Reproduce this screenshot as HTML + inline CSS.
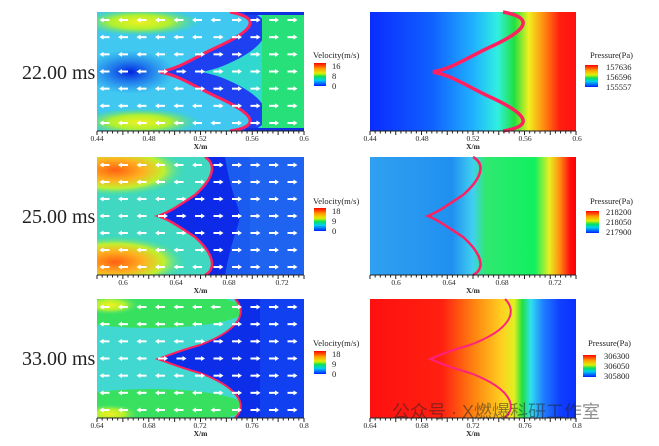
<!DOCTYPE html>
<html><head><meta charset="utf-8"><style>
html,body{margin:0;padding:0;background:#fff;width:659px;height:446px;overflow:hidden}
svg{display:block}
text{font-family:"Liberation Serif",serif;fill:#222}
</style></head><body>
<svg id="s" width="659" height="446" viewBox="0 0 659 446" xmlns="http://www.w3.org/2000/svg">
<defs>
<linearGradient id="p1" x1="0" x2="1" y1="0" y2="0">
<stop offset="0" stop-color="#0a2cff"/><stop offset="0.3" stop-color="#1060ff"/><stop offset="0.5" stop-color="#20b0ff"/><stop offset="0.62" stop-color="#30f0e0"/><stop offset="0.7" stop-color="#20e040"/><stop offset="0.77" stop-color="#f0f020"/><stop offset="0.84" stop-color="#ff9010"/><stop offset="0.92" stop-color="#ff2010"/><stop offset="1" stop-color="#ff1010"/></linearGradient>
<linearGradient id="p2" x1="0" x2="1" y1="0" y2="0">
<stop offset="0" stop-color="#30a0f0"/><stop offset="0.4" stop-color="#2090f0"/><stop offset="0.5" stop-color="#40d0f0"/><stop offset="0.56" stop-color="#30e870"/><stop offset="0.8" stop-color="#10f060"/><stop offset="0.87" stop-color="#e8f020"/><stop offset="0.92" stop-color="#ff9010"/><stop offset="0.97" stop-color="#ff1010"/><stop offset="1" stop-color="#ff0000"/></linearGradient>
<linearGradient id="p3" x1="0" x2="1" y1="0" y2="0">
<stop offset="0" stop-color="#ff1010"/><stop offset="0.35" stop-color="#ff2010"/><stop offset="0.5" stop-color="#ff8010"/><stop offset="0.64" stop-color="#ffd020"/><stop offset="0.7" stop-color="#e0f020"/><stop offset="0.74" stop-color="#20e040"/><stop offset="0.78" stop-color="#30e0f0"/><stop offset="0.84" stop-color="#2080ff"/><stop offset="0.92" stop-color="#1040ff"/><stop offset="1" stop-color="#0a30ff"/></linearGradient>
<linearGradient id="lv" x1="0" x2="0" y1="0" y2="1">
<stop offset="0" stop-color="#ff0000"/><stop offset="0.25" stop-color="#ffa000"/><stop offset="0.45" stop-color="#e0f000"/><stop offset="0.6" stop-color="#00e060"/><stop offset="0.75" stop-color="#00d0f0"/><stop offset="1" stop-color="#0020ff"/></linearGradient>
<radialGradient id="yel"><stop offset="0" stop-color="#f0f020"/><stop offset="0.5" stop-color="#b0f030"/><stop offset="1" stop-color="#40e080" stop-opacity="0"/></radialGradient>
<radialGradient id="ora"><stop offset="0" stop-color="#ff6010"/><stop offset="0.4" stop-color="#ffb020"/><stop offset="0.7" stop-color="#c0f030"/><stop offset="1" stop-color="#40e0a0" stop-opacity="0"/></radialGradient>
<radialGradient id="dk"><stop offset="0" stop-color="#0020e0"/><stop offset="1" stop-color="#1060f0" stop-opacity="0"/></radialGradient>
<clipPath id="c1"><rect x="97" y="12" width="207" height="119"/></clipPath>
<clipPath id="c2"><rect x="97" y="157" width="207" height="118"/></clipPath>
<clipPath id="c3"><rect x="97" y="299" width="207" height="119"/></clipPath>
</defs>

<g clip-path="url(#c1)">
<rect x="97" y="12" width="207" height="119" fill="#40c8f0"/>
<ellipse cx="130" cy="72" rx="45" ry="22" fill="url(#dk)"/>
<ellipse cx="140" cy="22" rx="60" ry="14" fill="url(#yel)"/>
<ellipse cx="140" cy="122" rx="60" ry="14" fill="url(#yel)"/>
<path d="M230,12 C262,18 255,30 215,48 C190,60 180,68 160,72 C180,76 190,84 215,96 C255,114 262,126 230,131 L304,131 L304,12 Z" fill="#1e40f0"/>
<path d="M250,12 C275,20 270,40 245,55 C230,64 215,70 200,72 C215,74 230,80 245,89 C270,104 275,124 250,131 L304,131 L304,12 Z" fill="#30d8d0"/>
<rect x="262" y="12" width="42" height="119" fill="#28e07a"/>
<rect x="245" y="12" width="59" height="3" fill="#1030e0"/><rect x="245" y="128" width="59" height="3" fill="#1030e0"/>
<path d="M230,12 C262,18 255,30 215,48 C190,60 180,68 160,72 C180,76 190,84 215,96 C255,114 262,126 230,131" fill="none" stroke="#ff2060" stroke-width="3"/>
<g id="a1"></g>
</g>
<rect x="370" y="12" width="206" height="119" fill="url(#p1)"/>
<path d="M503,12 C535,18 528,30 488,48 C463,60 453,68 433,72 C453,76 463,84 488,96 C528,114 535,126 503,131" fill="none" stroke="#ff2060" stroke-width="3.5"/>

<g clip-path="url(#c2)">
<rect x="97" y="157" width="207" height="118" fill="#40d8c0"/>
<ellipse cx="115" cy="170" rx="70" ry="26" fill="url(#ora)"/>
<ellipse cx="115" cy="262" rx="70" ry="26" fill="url(#ora)"/>
<path d="M205,157 C218,165 212,180 195,195 C178,206 170,212 158,216 C170,220 178,226 195,237 C212,252 218,268 205,275 L304,275 L304,157 Z" fill="#0c2ae8"/>
<path d="M225,157 C230,190 240,210 240,216 C240,222 230,245 225,275 L304,275 L304,157 Z" fill="#1a5cf0"/>
<rect x="250" y="157" width="54" height="118" fill="#1e64f0"/>
<path d="M205,157 C218,165 212,180 195,195 C178,206 170,212 158,216 C170,220 178,226 195,237 C212,252 218,268 205,275" fill="none" stroke="#ff2060" stroke-width="2.5"/>
<g id="a2"></g>
</g>
<rect x="370" y="157" width="206" height="118" fill="url(#p2)"/>
<path d="M473,157 C487,165 480,180 463,195 C446,206 438,212 428,216 C438,220 446,226 463,237 C480,252 487,268 473,275" fill="none" stroke="#ff2060" stroke-width="2.5"/>

<g clip-path="url(#c3)">
<rect x="97" y="299" width="207" height="119" fill="#40d8d0"/>
<ellipse cx="150" cy="310" rx="95" ry="18" fill="#38e060"/>
<ellipse cx="150" cy="407" rx="95" ry="18" fill="#38e060"/>
<ellipse cx="110" cy="305" rx="30" ry="10" fill="url(#yel)"/>
<ellipse cx="110" cy="414" rx="30" ry="10" fill="url(#yel)"/>
<path d="M235,299 C248,312 240,330 200,345 C175,352 170,355 158,359 C170,363 175,366 200,373 C240,388 248,406 235,418 L304,418 L304,299 Z" fill="#0c2ee8"/>
<rect x="260" y="299" width="44" height="119" fill="#1040f0"/>
<path d="M235,299 C248,312 240,330 200,345 C175,352 170,355 158,359 C170,363 175,366 200,373 C240,388 248,406 235,418" fill="none" stroke="#ff2060" stroke-width="2"/>
<g id="a3"></g>
</g>
<rect x="370" y="299" width="206" height="119" fill="url(#p3)"/>
<path d="M505,299 C518,312 510,330 470,345 C445,352 440,355 430,359 C440,363 445,366 470,373 C510,388 518,406 505,418" fill="none" stroke="#ff2080" stroke-width="2"/>

<text x="22" y="79" font-size="20">22.00 ms</text>
<text x="22" y="223" font-size="20">25.00 ms</text>
<text x="22" y="365" font-size="20">33.00 ms</text>

<g font-size="8.5">
<text x="313" y="58">Velocity(m/s)</text>
<rect x="314" y="63" width="12" height="23" fill="url(#lv)"/>
<text x="332" y="69">16</text><text x="332" y="79">8</text><text x="332" y="89">0</text>
<text x="313" y="204">Velocity(m/s)</text>
<rect x="314" y="208" width="12" height="23" fill="url(#lv)"/>
<text x="332" y="214">18</text><text x="332" y="224">9</text><text x="332" y="234">0</text>
<text x="313" y="346">Velocity(m/s)</text>
<rect x="314" y="351" width="12" height="23" fill="url(#lv)"/>
<text x="332" y="357">18</text><text x="332" y="367">9</text><text x="332" y="377">0</text>
<text x="590" y="58">Pressure(Pa)</text>
<rect x="585" y="65" width="13" height="22" fill="url(#lv)"/>
<text x="606" y="70">157636</text><text x="606" y="80">156596</text><text x="606" y="90">155557</text>
<text x="590" y="204">Pressure(Pa)</text>
<rect x="586" y="211" width="13" height="22" fill="url(#lv)"/>
<text x="606" y="215">218200</text><text x="606" y="225">218050</text><text x="606" y="235">217900</text>
<text x="588" y="346">Pressure(Pa)</text>
<rect x="583" y="355" width="13" height="22" fill="url(#lv)"/>
<text x="604" y="359">306300</text><text x="604" y="369">306050</text><text x="604" y="379">305800</text>
</g>
<g id="ax" font-size="7.5"></g>
<text x="392" y="418" font-size="18" fill="#aaa" opacity="0.5" style="font-family:'Liberation Sans','Noto Sans CJK SC',sans-serif">公众号 · X燃爆科研工作室</text>
</svg>
<script>
var NS="http://www.w3.org/2000/svg";
function el(p,t,a){var e=document.createElementNS(NS,t);for(var k in a)e.setAttribute(k,a[k]);p.appendChild(e);return e;}
function arrows(id,y0,y1,front){
 var g=document.getElementById(id);
 for(var r=0;r<7;r++){var y=y0+8+r*(y1-y0-16)/6;
  for(var c=0;c<11;c++){var x=106+c*18.5;
   var dir=x<front(y)?-1:1;var dx=3.5*dir;
   el(g,"line",{x1:x-dx,y1:y,x2:x+dx,y2:y,stroke:"#fff","stroke-width":2});
   el(g,"path",{d:"M"+(x+dx+3*dir)+","+y+" L"+(x+dx-1*dir)+","+(y-2.5)+" L"+(x+dx-1*dir)+","+(y+2.5)+"Z",fill:"#fff"});
  }}
}
arrows("a1",12,131,function(y){return 160+Math.abs(y-72)*1.3;});
arrows("a2",157,275,function(y){return 158+Math.abs(y-216)*0.9;});
arrows("a3",299,418,function(y){return 158+Math.abs(y-359)*1.4;});
var ax=document.getElementById("ax");
function axis(xs,yb,labs,lpos){
 [97,370].forEach(function(off){
  var x0=off,w=off==97?207:206;
  el(ax,"line",{x1:x0,y1:yb,x2:x0+w,y2:yb,stroke:"#222","stroke-width":1});
  for(var i=0;i<=40;i++){var x=x0+i*w/40;var big=i%5==0;el(ax,"line",{x1:x,y1:yb,x2:x,y2:yb+(big?4:2.5),stroke:"#222","stroke-width":1});}
  labs.forEach(function(l,i){var t=el(ax,"text",{x:lpos[i]+(off-97),y:yb+10,"text-anchor":"middle"});t.textContent=l;});
  var t=el(ax,"text",{x:x0+w/2,y:yb+18,"text-anchor":"middle","font-weight":"bold"});t.textContent="X/m";
 });
}
axis(0,131,["0.44","0.48","0.52","0.56","0.6"],[97,149,200,252,304]);
axis(0,275,["0.6","0.64","0.68","0.72"],[123,176,229,282]);
axis(0,418,["0.64","0.68","0.72","0.76","0.8"],[97,149,200,252,304]);
</script>
</body></html>
